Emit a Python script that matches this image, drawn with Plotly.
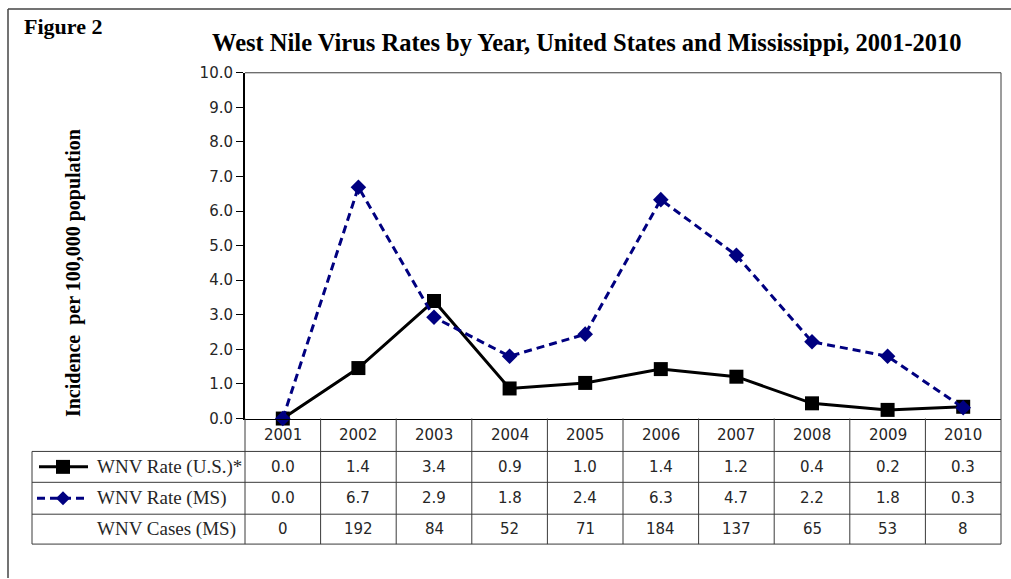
import plotly.graph_objects as go

W, H = 1011, 579

years = ["2001", "2002", "2003", "2004", "2005", "2006", "2007", "2008", "2009", "2010"]
us_rate = [0.0, 1.46, 3.4, 0.87, 1.03, 1.43, 1.21, 0.44, 0.25, 0.34]
ms_rate = [0.0, 6.69, 2.93, 1.8, 2.44, 6.33, 4.72, 2.22, 1.8, 0.31]
us_table = ["0.0", "1.4", "3.4", "0.9", "1.0", "1.4", "1.2", "0.4", "0.2", "0.3"]
ms_table = ["0.0", "6.7", "2.9", "1.8", "2.4", "6.3", "4.7", "2.2", "1.8", "0.3"]
ms_cases = ["0", "192", "84", "52", "71", "184", "137", "65", "53", "8"]
y_ticks = [i for i in range(11)]
y_tick_labels = [f"{v:.1f}" for v in y_ticks]

xs = list(range(len(years)))

# layout geometry (target pixels)
PL, PR, PT, PB = 245, 1001, 72, 419
ROWS = [419, 452, 483, 515, 545]
TL = 32

# observed rendering: paper mapped to y in [OY, OY+HE]
OY, HE = 8, 563

def px(x):
    return x / W

def py(y):
    return 1 - (y - OY) / HE

SANS = "DejaVu Sans"
SERIF = "Liberation Serif"
GRID = "#3a3a3a"
TXT = "#262626"

fig = go.Figure()
fig.add_trace(go.Scatter(
    x=xs, y=us_rate, mode="lines+markers", name="WNV Rate (U.S.)*",
    line=dict(color="black", width=3),
    marker=dict(symbol="square", size=14, color="black"),
    showlegend=False, cliponaxis=False))
fig.add_trace(go.Scatter(
    x=xs, y=ms_rate, mode="lines+markers", name="WNV Rate (MS)",
    line=dict(color="#000080", width=3, dash="8px,5px"),
    marker=dict(symbol="diamond", size=12, color="#000080"),
    showlegend=False, cliponaxis=False))

shapes = []
ann = []

def hline(y, x0, x1, color=GRID, width=1):
    shapes.append(dict(type="line", xref="paper", yref="paper",
                       x0=px(x0), x1=px(x1), y0=py(y), y1=py(y),
                       line=dict(color=color, width=width)))

def vline(x, y0, y1, color=GRID, width=1):
    shapes.append(dict(type="line", xref="paper", yref="paper",
                       x0=px(x), x1=px(x), y0=py(y0), y1=py(y1),
                       line=dict(color=color, width=width)))

# outer frame
hline(8, 8, W, color="#444444", width=1.5)
vline(8, 8, H, color="#444444", width=1.5)

# plot frame (top, right)
hline(PT, PL, PR)
vline(PR, PT, ROWS[-1])

# table
for y in ROWS[1:]:
    hline(y, TL, PR)
vline(TL, ROWS[1], ROWS[-1])
vline(PL, PB, ROWS[-1])
for k in range(1, len(years)):
    shapes.append(dict(type="line", xref="x", yref="paper",
                       x0=k - 0.5, x1=k - 0.5, y0=py(ROWS[0]), y1=py(ROWS[-1]),
                       line=dict(color=GRID, width=1)))

# table text
rows_text = [years, us_table, ms_table, ms_cases]
for r, vals in enumerate(rows_text):
    yc = (ROWS[r] + ROWS[r + 1]) / 2
    for i, v in enumerate(vals):
        ann.append(dict(x=i, y=py(yc), xref="x", yref="paper", text=v,
                        showarrow=False, xanchor="center", yanchor="middle",
                        font=dict(family=SANS, size=15, color=TXT)))

# row headers
labels = ["WNV Rate (U.S.)*", "WNV Rate (MS)", "WNV Cases (MS)"]
for r, lab in enumerate(labels):
    yc = (ROWS[r + 1] + ROWS[r + 2]) / 2
    ann.append(dict(x=px(95), y=py(yc), xref="paper", yref="paper", text=lab,
                    showarrow=False, xanchor="left", yanchor="middle",
                    font=dict(family=SERIF, size=19, color=TXT)))

# legend keys
yc1 = (ROWS[1] + ROWS[2]) / 2
yc2 = (ROWS[2] + ROWS[3]) / 2
shapes.append(dict(type="line", xref="paper", yref="paper", x0=px(39), x1=px(88),
                   y0=py(yc1), y1=py(yc1), line=dict(color="black", width=3)))
shapes.append(dict(type="rect", xref="paper", yref="paper", x0=px(56), x1=px(70),
                   y0=py(yc1 + 7), y1=py(yc1 - 7), fillcolor="black",
                   line=dict(color="black", width=0)))
shapes.append(dict(type="line", xref="paper", yref="paper", x0=px(37), x1=px(88),
                   y0=py(yc2), y1=py(yc2), line=dict(color="#000080", width=3, dash="8px,5px")))
cx, cy = 63, yc2
shapes.append(dict(type="path", xref="paper", yref="paper",
                   path=f"M {px(cx-7)} {py(cy)} L {px(cx)} {py(cy-7)} L {px(cx+7)} {py(cy)} L {px(cx)} {py(cy+7)} Z",
                   fillcolor="#000080", line=dict(color="#000080", width=0)))

# titles
ann.append(dict(x=px(22), y=py(26), xref="paper", yref="paper", text="<b>Figure 2</b>",
                showarrow=False, xanchor="left", yanchor="middle",
                font=dict(family=SERIF, size=22, color="black")))
ann.append(dict(x=px(587), y=py(42), xref="paper", yref="paper",
                text="<b>West Nile Virus Rates by Year, United States and Mississippi, 2001-2010</b>",
                showarrow=False, xanchor="center", yanchor="middle",
                font=dict(family=SERIF, size=24.5, color="black")))
ann.append(dict(x=px(73), y=py(273), xref="paper", yref="paper",
                text="<b>Incidence&nbsp;&nbsp;per 100,000 population</b>", textangle=-90,
                showarrow=False, xanchor="center", yanchor="middle",
                font=dict(family=SERIF, size=20, color="black")))

fig.update_layout(
    width=W, height=H,
    margin=dict(l=0, r=0, t=0, b=0),
    paper_bgcolor="white", plot_bgcolor="white",
    showlegend=False,
    xaxis=dict(domain=[px(PL), px(PR)], range=[-0.5, 9.5], showticklabels=False,
               showgrid=False, zeroline=False, showline=True, linecolor="black",
               linewidth=1, ticks="", fixedrange=True),
    yaxis=dict(domain=[py(PB), py(PT)], range=[0, 10], tickvals=y_ticks,
               ticktext=y_tick_labels, showgrid=False, zeroline=False,
               showline=True, linecolor="black", linewidth=2, ticks="outside",
               ticklen=7, tickcolor="black", tickwidth=1,
               tickfont=dict(family=SANS, size=15, color=TXT), fixedrange=True),
    shapes=shapes,
    annotations=ann,
)

fig.write_html("out.html")
